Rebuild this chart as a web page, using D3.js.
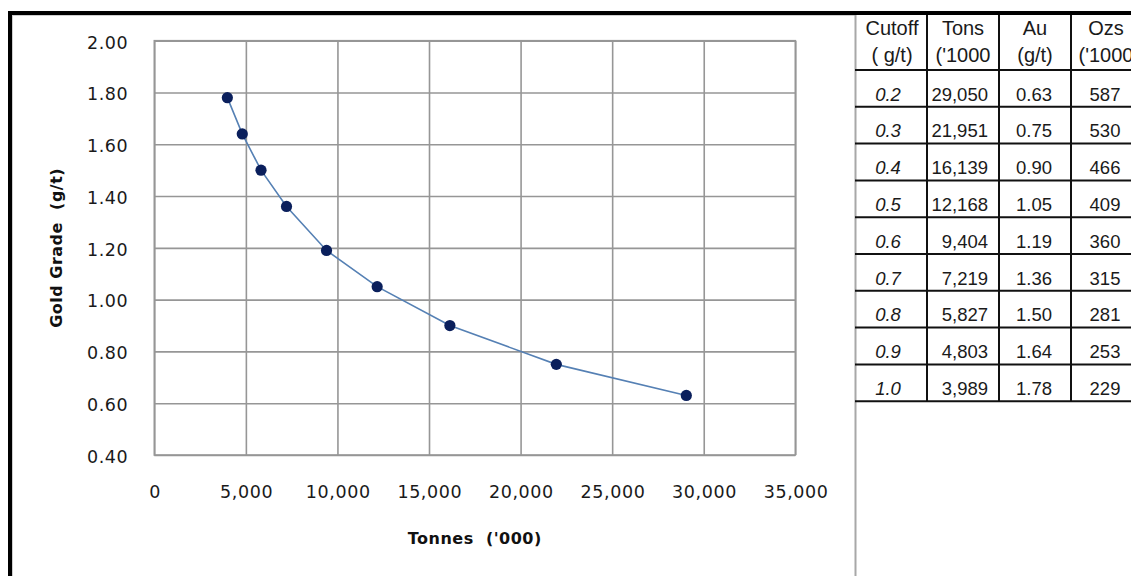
<!DOCTYPE html>
<html>
<head>
<meta charset="utf-8">
<script src="https://cdn.jsdelivr.net/npm/d3@7"></script>
<style>
  html, body { margin: 0; padding: 0; background: #fff; overflow: hidden; }
  svg { display: block; }
</style>
</head>
<body>
<svg id="chart" width="1131" height="576"></svg>
<script>
// ---- data ----
const cutoff = ["0.2", "0.3", "0.4", "0.5", "0.6", "0.7", "0.8", "0.9", "1.0"];
const tons   = [29050, 21951, 16139, 12168, 9404, 7219, 5827, 4803, 3989];
const au     = [0.63, 0.75, 0.90, 1.05, 1.19, 1.36, 1.50, 1.64, 1.78];
const ozs    = [587, 530, 466, 409, 360, 315, 281, 253, 229];
const headerLine1 = ["Cutoff", "Tons", "Au", "Ozs"];
const headerLine2 = ["( g/t)", "('1000", "(g/t)", "('1000"];
const xTickValues = [0, 5000, 10000, 15000, 20000, 25000, 30000, 35000];
const yTickValues = [0.4, 0.6, 0.8, 1.0, 1.2, 1.4, 1.6, 1.8, 2.0];
const xTitle = "Tonnes  ('000)";
const yTitle = "Gold Grade  (g/t)";

const svg = d3.select("#chart");
const W = 1131, H = 576;

svg.append("rect").attr("width", W).attr("height", H).attr("fill", "#fff");

// ---- frame ----
svg.append("line").attr("x1", 8).attr("x2", W).attr("y1", 13).attr("y2", 13)
  .attr("stroke", "#000").attr("stroke-width", 4);
svg.append("line").attr("x1", 10).attr("x2", 10).attr("y1", 11).attr("y2", H)
  .attr("stroke", "#000").attr("stroke-width", 4);
svg.append("line").attr("x1", 13).attr("x2", 855).attr("y1", 15.5).attr("y2", 15.5)
  .attr("stroke", "#cfcfcf").attr("stroke-width", 1);
svg.append("line").attr("x1", 12.5).attr("x2", 12.5).attr("y1", 15).attr("y2", H)
  .attr("stroke", "#cfcfcf").attr("stroke-width", 1);
svg.append("line").attr("x1", 855.5).attr("x2", 855.5).attr("y1", 15).attr("y2", H)
  .attr("stroke", "#a8a8a8").attr("stroke-width", 2);

// ---- chart ----
const plot = { left: 154.3, right: 795.3, top: 40.7, bottom: 455 };
const x = d3.scaleLinear().domain([0, 35000]).range([plot.left, plot.right]);
const y = d3.scaleLinear().domain([0.4, 2.0]).range([plot.bottom, plot.top]);

const gridColor = "#969696";
const tickFont = "'DejaVu Sans', Verdana, sans-serif";

const gx = svg.append("g").attr("transform", `translate(0,${plot.bottom})`)
  .call(d3.axisBottom(x).tickValues(xTickValues).tickFormat(d3.format(","))
    .tickSizeInner(-(plot.bottom - plot.top)).tickSizeOuter(0).tickPadding(31));
const gy = svg.append("g").attr("transform", `translate(${plot.left},0)`)
  .call(d3.axisLeft(y).tickValues(yTickValues).tickFormat(d3.format(".2f"))
    .tickSizeInner(-(plot.right - plot.left)).tickSizeOuter(0).tickPadding(26));

[gx, gy].forEach(g => {
  g.select(".domain").remove();
  g.selectAll(".tick line").attr("stroke", gridColor).attr("stroke-width", 1.6);
  g.selectAll(".tick text").attr("fill", "#1a1a1a")
    .style("font-family", tickFont).style("font-size", "17.5px")
    .style("letter-spacing", "0.6px");
});
gy.selectAll(".tick text").attr("dy", "0.42em");
gx.selectAll(".tick text").attr("dx", "0.3px");

// plot border
svg.append("rect").attr("x", plot.left).attr("y", plot.top)
  .attr("width", plot.right - plot.left).attr("height", plot.bottom - plot.top)
  .attr("fill", "none").attr("stroke", gridColor).attr("stroke-width", 1.6);

// series
const pts = tons.map((t, i) => ({ t, g: au[i] })).sort((a, b) => a.t - b.t);
svg.append("path").datum(pts)
  .attr("d", d3.line().x(d => x(d.t)).y(d => y(d.g)))
  .attr("fill", "none").attr("stroke", "#5580b4").attr("stroke-width", 1.6);
svg.append("g").selectAll("circle").data(pts).join("circle")
  .attr("cx", d => x(d.t)).attr("cy", d => y(d.g)).attr("r", 5.6)
  .attr("fill", "#0a1f5c");

// axis titles
const titleFont = "'DejaVu Sans', Verdana, sans-serif";
svg.append("text").attr("x", (plot.left + plot.right) / 2).attr("y", 544)
  .attr("text-anchor", "middle").attr("fill", "#111")
  .style("font-family", titleFont).style("font-weight", "bold")
  .style("font-size", "16px").style("letter-spacing", "0.5px")
  .style("white-space", "pre").text(xTitle);
svg.append("text")
  .attr("transform", `translate(62,${(plot.top + plot.bottom) / 2}) rotate(-90)`)
  .attr("text-anchor", "middle").attr("fill", "#111")
  .style("font-family", titleFont).style("font-weight", "bold")
  .style("font-size", "16px").style("letter-spacing", "0.5px")
  .style("white-space", "pre").text(yTitle);

// ---- table ----
const colEdges = [855, 927, 999, 1071, 1143];
const headTop = 15, headBottom = 70, rowH = 36.8;
const tableFont = "'Liberation Sans', Arial, sans-serif";
const tbl = svg.append("g");
const nRows = cutoff.length;
const tableBottom = headBottom + nRows * rowH;

// vertical lines (inner)
tbl.selectAll("line.v").data(colEdges.slice(1, 4)).join("line")
  .attr("x1", d => d).attr("x2", d => d).attr("y1", headTop).attr("y2", tableBottom)
  .attr("stroke", "#111").attr("stroke-width", 2);
// horizontal lines
const hLines = [headBottom].concat(d3.range(1, nRows + 1).map(i => headBottom + i * rowH));
tbl.selectAll("line.h").data(hLines).join("line")
  .attr("x1", 855).attr("x2", W).attr("y1", d => d).attr("y2", d => d)
  .attr("stroke", "#111").attr("stroke-width", 2);

// header text
const headCenters = [892, 963, 1035, 1106];
headCenters.forEach((cx, i) => {
  tbl.append("text").attr("x", cx).attr("y", 35).attr("text-anchor", "middle")
    .attr("fill", "#1a1a1a").style("font-family", tableFont).style("font-size", "20px")
    .text(headerLine1[i]);
  tbl.append("text").attr("x", cx).attr("y", 62).attr("text-anchor", "middle")
    .attr("fill", "#1a1a1a").style("font-family", tableFont).style("font-size", "20px")
    .style("white-space", "pre").text(headerLine2[i]);
});

// body text
const rows = cutoff.map((c, i) => ({ c, t: tons[i], a: au[i], o: ozs[i], i }));
const fmtT = d3.format(",");
const body = tbl.selectAll("g.row").data(rows).join("g")
  .attr("transform", d => `translate(0,${headBottom + d.i * rowH + 30.5})`);
body.append("text").attr("x", 888).attr("text-anchor", "middle")
  .style("font-style", "italic").text(d => d.c);
body.append("text").attr("x", 988).attr("text-anchor", "end").text(d => fmtT(d.t));
body.append("text").attr("x", 1034).attr("text-anchor", "middle").text(d => d.a.toFixed(2));
body.append("text").attr("x", 1105).attr("text-anchor", "middle").text(d => d.o);
body.selectAll("text").attr("fill", "#1a1a1a")
  .style("font-family", tableFont).style("font-size", "18.5px");
</script>
</body>
</html>
